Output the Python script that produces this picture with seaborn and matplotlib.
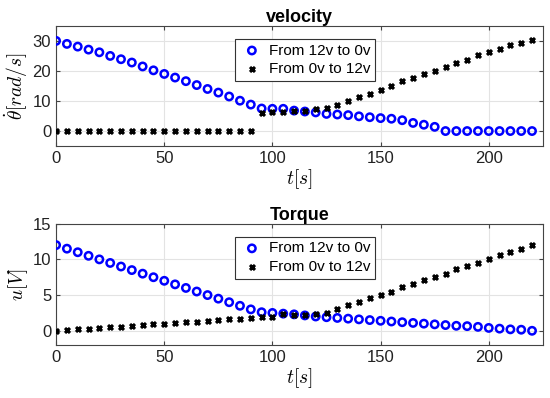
import numpy as np
import pandas as pd
import matplotlib
matplotlib.use("Agg")
import matplotlib.pyplot as plt
import seaborn as sns

# time axis (s), samples every 5 s
t = [0, 5, 10, 15, 20, 25, 30, 35, 40, 45, 50, 55, 60, 65, 70, 75, 80, 85, 90, 95,
     100, 105, 110, 115, 120, 125, 130, 135, 140, 145, 150, 155, 160, 165, 170, 175,
     180, 185, 190, 195, 200, 205, 210, 215, 220]

# velocity [rad/s]
vel_down = [30, 29, 28.1, 27.1, 26.2, 25, 23.9, 22.8, 21.5, 20.2, 19, 17.8, 16.6, 15.3,
            14, 12.8, 11.5, 10.1, 8.8, 7.5, 7.4, 7.4, 6.8, 6.5, 6.2, 5.7, 5.5, 5.3, 4.9,
            4.6, 4.3, 4.1, 3.6, 2.7, 2.1, 1.4, 0, 0, 0, 0, 0, 0, 0, 0, 0]
vel_up = [0, 0, 0, 0, 0, 0, 0, 0, 0, 0, 0, 0, 0, 0, 0, 0, 0, 0, 0, 5.9, 6.2, 6.5, 6.6,
          6.8, 7.2, 7.6, 8.8, 10, 11.2, 12.4, 13.6, 15, 16.5, 17.5, 18.9, 20, 21.3,
          22.7, 23.8, 25.3, 26.3, 27.4, 28.6, 29.2, 30.4]

# torque / voltage [V]
u_down = [12, 11.5, 11, 10.5, 10, 9.5, 9, 8.5, 8, 7.5, 7, 6.5, 6, 5.5, 5, 4.5, 4, 3.5,
          3, 2.6, 2.5, 2.4, 2.3, 2.15, 2.0, 1.9, 1.8, 1.7, 1.6, 1.5, 1.4, 1.3, 1.2, 1.1,
          1.0, 0.9, 0.8, 0.7, 0.65, 0.55, 0.4, 0.3, 0.2, 0.15, 0]
u_up = [0, 0.1, 0.2, 0.3, 0.4, 0.5, 0.6, 0.7, 0.8, 0.9, 1.0, 1.1, 1.2, 1.3, 1.4, 1.5,
        1.6, 1.7, 1.8, 1.9, 2.0, 2.3, 2.25, 2.2, 2.4, 2.5, 3.1, 3.55, 4.05, 4.6, 5.05,
        5.5, 6.1, 6.5, 7.05, 7.5, 8.0, 8.6, 9.05, 9.5, 10.0, 10.55, 11.05, 11.5, 12.05]

labels = ["From 12v to 0v", "From 0v to 12v"]

df = pd.DataFrame({"t": t, "vel_down": vel_down, "vel_up": vel_up,
                   "u_down": u_down, "u_up": u_up})

sns.set_style("whitegrid")
plt.rcParams["font.family"] = ["Liberation Sans", "DejaVu Sans"]
plt.rcParams["mathtext.fontset"] = "cm"
plt.rcParams["xtick.direction"] = "in"
plt.rcParams["ytick.direction"] = "in"
plt.rcParams["text.color"] = "black"
plt.rcParams["xtick.labelcolor"] = "#222222"
plt.rcParams["ytick.labelcolor"] = "#222222"
plt.rcParams["axes.labelcolor"] = "black"

fig = plt.figure(figsize=(5.5, 3.98), dpi=100)
ax1 = fig.add_axes([0.102, 0.633, 0.885, 0.302])
ax2 = fig.add_axes([0.102, 0.133, 0.885, 0.305])


def draw(ax, down, up, title, ylabel, ylim, yticks):
    sns.scatterplot(data=df, x="t", y=down, ax=ax, marker="o", s=28,
                    facecolors="none", edgecolor="blue", linewidth=1.8,
                    label=labels[0], zorder=3)
    sns.scatterplot(data=df, x="t", y=up, ax=ax, marker="x", s=13,
                    color="black", linewidth=2.2, label=labels[1], zorder=4)
    ax.set_xlim(0, 225)
    ax.set_ylim(*ylim)
    ax.set_xticks([0, 50, 100, 150, 200])
    ax.set_yticks(yticks)
    ax.tick_params(labelsize=12, length=3, color="#444444",
                   top=True, right=True, bottom=True, left=True)
    ax.set_title(title, fontsize=13, fontweight="bold", pad=3, color="black")
    ax.set_xlabel(r"$t[s]$", fontsize=14, labelpad=1)
    ax.set_ylabel(ylabel, fontsize=14, labelpad=2)
    ax.grid(True, color="#e3e3e3", linewidth=0.8)
    for sp in ax.spines.values():
        sp.set_color("#444444")
        sp.set_linewidth(0.8)
    leg = ax.legend(loc="upper left", bbox_to_anchor=(0.352, 0.955), fontsize=11,
                    frameon=True, fancybox=False, framealpha=1,
                    edgecolor="#333333", handletextpad=0.3, borderpad=0.3,
                    labelspacing=0.3, handlelength=1.6)
    leg.get_frame().set_linewidth(0.8)


draw(ax1, "vel_down", "vel_up", "velocity", r"$\dot{\theta}[rad/s]$", (-5, 35), [0, 10, 20, 30])
draw(ax2, "u_down", "u_up", "Torque", r"$u[V]$", (-2, 15), [0, 5, 10, 15])

fig.savefig("out.png", dpi=100)
